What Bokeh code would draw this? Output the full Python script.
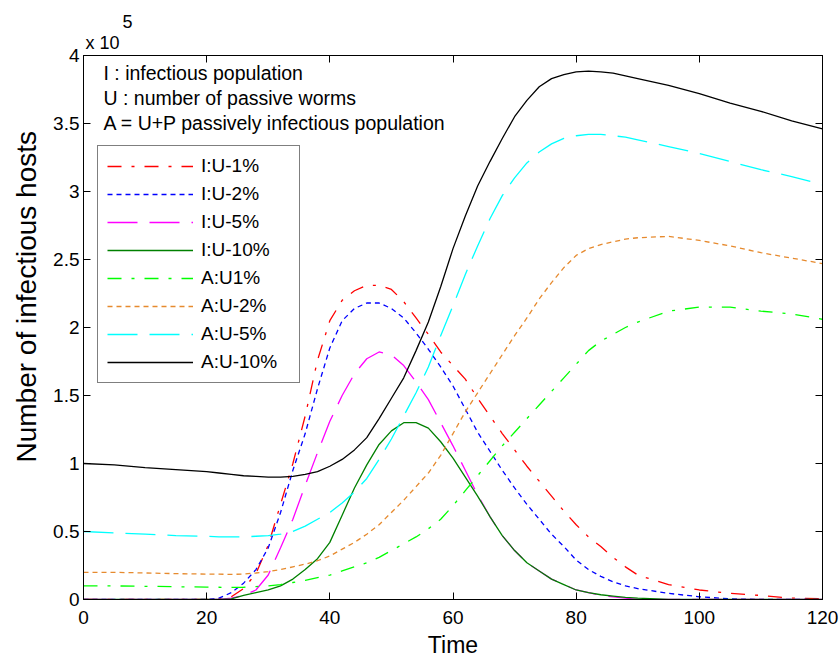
from bokeh.plotting import figure
from bokeh.models import (Range1d, FixedTicker, LinearAxis, Legend, LegendItem,
                          Label, Title, CustomJSTickFormatter)
from bokeh.embed import file_html
from bokeh.resources import INLINE

# ---------------- data (hosts in units of 10^5) ----------------
time = [0, 5, 10, 15, 20, 22, 24, 26, 28, 30, 32, 34, 36, 38, 40, 42, 44, 46, 48, 50,
        52, 54, 56, 58, 60, 62, 64, 66, 68, 70, 72, 74, 76, 78, 80, 82, 84, 86, 88, 90,
        95, 100, 105, 110, 115, 120]

I_U1 = [0, 0, 0, 0, 0, 0.005, 0.02, 0.08, 0.19, 0.40, 0.70, 1.00, 1.35, 1.76, 2.05, 2.20,
        2.27, 2.31, 2.31, 2.28, 2.19, 2.07, 1.95, 1.82, 1.72, 1.62, 1.48, 1.35, 1.22, 1.10,
        0.98, 0.87, 0.76, 0.65, 0.55, 0.46, 0.39, 0.31, 0.24, 0.18, 0.11, 0.07, 0.045, 0.03,
        0.01, 0.005]
I_U2 = [0, 0, 0, 0, 0, 0.01, 0.05, 0.12, 0.22, 0.38, 0.64, 0.95, 1.22, 1.55, 1.85, 2.05,
        2.14, 2.18, 2.18, 2.14, 2.07, 1.96, 1.84, 1.71, 1.57, 1.40, 1.23, 1.09, 0.95, 0.82,
        0.70, 0.59, 0.48, 0.39, 0.29, 0.22, 0.17, 0.13, 0.10, 0.08, 0.045, 0.02, 0.005, 0,
        0, 0]
I_U5 = [0, 0, 0, 0, 0, 0, 0.01, 0.03, 0.07, 0.18, 0.38, 0.59, 0.84, 1.08, 1.31, 1.50,
        1.66, 1.77, 1.82, 1.80, 1.72, 1.60, 1.47, 1.30, 1.13, 0.95, 0.77, 0.61, 0.47, 0.36,
        0.27, 0.21, 0.15, 0.11, 0.07, 0.05, 0.03, 0.02, 0.01, 0, 0, 0, 0, 0, 0, 0]
I_U10 = [0, 0, 0, 0, 0, 0, 0.005, 0.03, 0.05, 0.07, 0.10, 0.15, 0.22, 0.30, 0.42, 0.62,
         0.82, 0.99, 1.14, 1.24, 1.30, 1.30, 1.26, 1.16, 1.04, 0.90, 0.76, 0.61, 0.47, 0.36,
         0.27, 0.21, 0.15, 0.11, 0.07, 0.05, 0.035, 0.025, 0.015, 0.01, 0, 0, 0, 0, 0, 0]
A_U1 = [0.10, 0.10, 0.097, 0.094, 0.091, 0.09, 0.089, 0.09, 0.095, 0.10, 0.11, 0.125, 0.14,
        0.16, 0.18, 0.21, 0.24, 0.27, 0.31, 0.36, 0.41, 0.46, 0.52, 0.59, 0.69, 0.80, 0.91,
        1.02, 1.13, 1.23, 1.33, 1.43, 1.53, 1.63, 1.73, 1.83, 1.90, 1.95, 2.00, 2.04, 2.12,
        2.15, 2.15, 2.12, 2.10, 2.06]
A_U2 = [0.20, 0.20, 0.195, 0.19, 0.187, 0.186, 0.185, 0.187, 0.195, 0.205, 0.22, 0.24, 0.26,
        0.285, 0.32, 0.37, 0.42, 0.48, 0.55, 0.64, 0.73, 0.83, 0.93, 1.06, 1.22, 1.38, 1.52,
        1.66, 1.80, 1.94, 2.07, 2.21, 2.33, 2.44, 2.53, 2.58, 2.61, 2.63, 2.65, 2.66, 2.67,
        2.64, 2.60, 2.55, 2.51, 2.47]
A_U5 = [0.50, 0.49, 0.48, 0.47, 0.465, 0.46, 0.46, 0.46, 0.465, 0.47, 0.48, 0.50, 0.54, 0.59,
        0.64, 0.71, 0.79, 0.89, 1.03, 1.18, 1.35, 1.52, 1.71, 1.94, 2.16, 2.39, 2.60, 2.80,
        2.97, 3.10, 3.21, 3.29, 3.35, 3.39, 3.41, 3.42, 3.42, 3.41, 3.40, 3.38, 3.33, 3.28,
        3.22, 3.16, 3.11, 3.05]
A_U10 = [1.00, 0.99, 0.97, 0.955, 0.94, 0.93, 0.92, 0.91, 0.905, 0.90, 0.90, 0.905, 0.92,
         0.94, 0.98, 1.03, 1.10, 1.19, 1.33, 1.48, 1.63, 1.83, 2.04, 2.30, 2.58, 2.82, 3.04,
         3.22, 3.39, 3.55, 3.67, 3.77, 3.83, 3.86, 3.88, 3.885, 3.88, 3.87, 3.85, 3.83, 3.78,
         3.72, 3.65, 3.59, 3.52, 3.46]

labels = ["I:U-1%", "I:U-2%", "I:U-5%", "I:U-10%", "A:U1%", "A:U-2%", "A:U-5%", "A:U-10%"]
x_ticks = [0, 20, 40, 60, 80, 100, 120]
y_ticks = [0, 0.5, 1, 1.5, 2, 2.5, 3, 3.5, 4]
notes = ["I : infectious population", "U : number of passive worms",
         "A = U+P passively infectious population"]

series = [I_U1, I_U2, I_U5, I_U10, A_U1, A_U2, A_U5, A_U10]
colors = ["#FF0000", "#0000FF", "#FF00FF", "#008000", "#00FF00", "#E68A2E", "#00FFFF", "#000000"]
dashes = ["14 10 3 10", "5 4", "30 12", "solid", "14 10 3 10", "5 4", "30 12", "solid"]

FONT = "Liberation Sans"

p = figure(width=839, height=661, output_backend="svg", toolbar_location=None,
           x_range=Range1d(0, 120), y_range=Range1d(0, 4),
           min_border_left=83, min_border_right=17, min_border_top=55, min_border_bottom=62,
           x_axis_label="Time")
p.title.visible = False
p.grid.visible = False
p.outline_line_color = "black"
p.outline_line_width = 1
p.background_fill_color = "white"
p.border_fill_color = "white"

tick_fmt = CustomJSTickFormatter(code="return tick.toString();")
for ax, ticks in ((p.xaxis[0], x_ticks), (p.yaxis[0], y_ticks)):
    ax.ticker = FixedTicker(ticks=ticks)
    ax.formatter = tick_fmt
    ax.major_tick_in = 7
    ax.major_tick_out = 0
    ax.minor_tick_line_color = None
    ax.axis_line_color = "black"
    ax.major_tick_line_color = "black"
    ax.major_label_text_font = FONT
    ax.major_label_text_font_size = "19px"
    ax.major_label_text_color = "black"
    ax.axis_label_text_font = FONT
    ax.axis_label_text_font_style = "normal"
    ax.axis_label_text_color = "black"

p.xaxis[0].major_label_standoff = 11
p.xaxis[0].axis_label_standoff = 5
p.xaxis[0].axis_label_text_font_size = "23px"
p.yaxis[0].major_label_standoff = 4

blank = CustomJSTickFormatter(code="return '';")
for loc, ticks in (("above", x_ticks), ("right", y_ticks)):
    ax = LinearAxis(ticker=FixedTicker(ticks=ticks), formatter=blank)
    ax.major_tick_in = 7
    ax.major_tick_out = 0
    ax.minor_tick_line_color = None
    ax.major_label_standoff = 0
    ax.axis_line_color = "black"
    ax.major_tick_line_color = "black"
    ax.major_label_text_font_size = "1px"
    p.add_layout(ax, loc)

# y-axis title (a side title, so it can sit above the frame centre as in the original)
y_title = Title(text="Number of infectious hosts", align="left", offset=137, standoff=17,
                text_font=FONT, text_font_size="28px", text_font_style="normal",
                text_color="black")
p.add_layout(y_title, "left")

# "x 10^5" multiplier above the top-left corner
t_base = Title(text="x 10", align="left", offset=2, standoff=6, text_font=FONT,
               text_font_size="18px", text_font_style="normal", text_color="black")
t_exp = Title(text="5", align="left", offset=39, standoff=0, text_font=FONT,
              text_font_size="18px", text_font_style="normal", text_color="black")
p.add_layout(t_base, "above")
p.add_layout(t_exp, "above")

items = []
for ys, lab, col, dsh in zip(series, labels, colors, dashes):
    r = p.line(time, ys, line_color=col, line_width=1.3, line_dash=dsh)
    items.append(LegendItem(label=lab, renderers=[r]))

legend = Legend(items=items, location=(14, 216))
legend.label_text_font = FONT
legend.label_text_font_size = "19px"
legend.label_text_color = "black"
legend.label_height = 22
legend.glyph_height = 22
legend.glyph_width = 86
legend.label_width = 89
legend.label_standoff = 8
legend.spacing = 6
legend.padding = 9
legend.margin = 0
legend.border_line_color = "black"
legend.border_line_width = 1
legend.background_fill_color = "white"
legend.background_fill_alpha = 1
p.add_layout(legend)

for i, t in enumerate(notes):
    p.add_layout(Label(x=0, y=4, x_offset=20, y_offset=-17 - 25 * i, text=t,
                       text_font=FONT, text_font_size="19.5px", text_color="black",
                       text_baseline="alphabetic", text_align="left"))

open("out.html", "w").write(file_html(p, INLINE))
